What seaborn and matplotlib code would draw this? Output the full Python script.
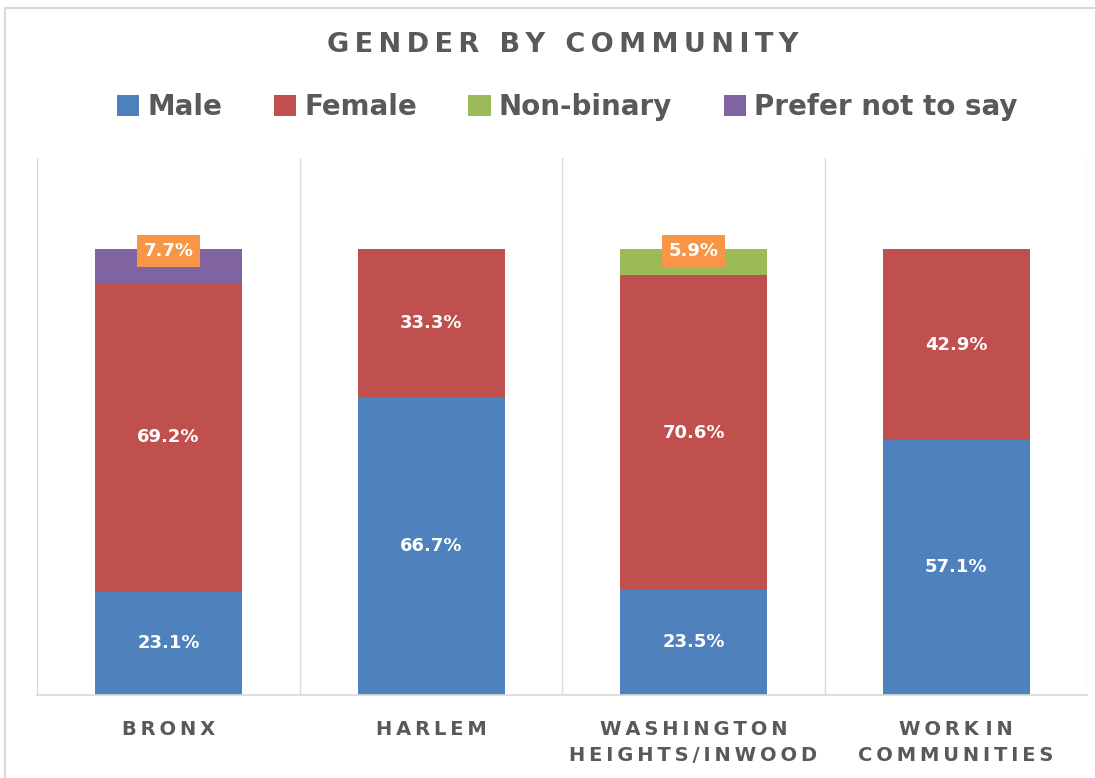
import matplotlib
matplotlib.use("Agg")
import matplotlib.pyplot as plt
import numpy as np
import pandas as pd
import seaborn as sns
from matplotlib.patches import Patch, Rectangle

# data (percent of respondents)
communities = ["BRONX", "HARLEM", "WASHINGTON\nHEIGHTS/INWOOD", "WORK IN\nCOMMUNITIES"]
series_names = ["Male", "Female", "Non-binary", "Prefer not to say"]
male = [23.1, 66.7, 23.5, 57.1]
female = [69.2, 33.3, 70.6, 42.9]
non_binary = [0.0, 0.0, 5.9, 0.0]
prefer_not = [7.7, 0.0, 0.0, 0.0]

colors = ["#4F81BD", "#C0504D", "#9BBB59", "#8064A2"]
text_gray = "#595959"


def spaced(s, gap="\u2009", word_gap=" "):
    """Widen letter spacing the way the original chart does."""
    out = []
    for line in s.split("\n"):
        words = [gap.join(w) for w in line.split(" ")]
        out.append(word_gap.join(words))
    return "\n".join(out)


sns.set_theme(style="white")
plt.rcParams["font.family"] = ["DejaVu Sans"]

layers = [np.array(male), np.array(female), np.array(non_binary), np.array(prefer_not)]
cum = np.cumsum(layers, axis=0) / 100.0

fig = plt.figure(figsize=(10.95, 7.78), dpi=100)
ax = fig.add_axes([0.034, 0.107, 0.959, 0.690])

# stacked bars drawn as overlapping cumulative bars, top layer first
for i in range(len(series_names) - 1, -1, -1):
    df = pd.DataFrame({"community": communities, "value": cum[i]})
    sns.barplot(data=df, x="community", y="value", color=colors[i],
                saturation=1, width=0.56, ax=ax, errorbar=None, linewidth=0)

# segment labels
for j in range(len(communities)):
    bottom = 0.0
    for i in range(len(series_names)):
        v = layers[i][j] / 100.0
        if v > 0:
            lbl = f"{layers[i][j]:.1f}%"
            if v > 0.1:
                ax.text(j, bottom + v / 2, lbl, ha="center", va="center",
                        color="white", fontsize=13, fontweight="bold")
            else:
                ax.text(j, 1.0 - 0.005, lbl, ha="center", va="center",
                        color="white", fontsize=13, fontweight="bold",
                        bbox=dict(boxstyle="square,pad=0.38", fc="#F79646", ec="none"))
        bottom += v

ax.set_ylim(0, 1.204)
ax.set_xlim(-0.5, len(communities) - 0.5)
ax.set_yticks([])
ax.set_xlabel("")
ax.set_ylabel("")
for x in np.arange(-0.5, len(communities), 1.0):
    ax.axvline(x, color="#D9D9D9", lw=1, zorder=0)
for s in ["top", "left", "right"]:
    ax.spines[s].set_visible(False)
ax.spines["bottom"].set_color("#D9D9D9")
ax.tick_params(axis="x", length=0, pad=18)
ax.set_xticks(range(len(communities)))
ax.set_xticklabels([spaced(c) for c in communities], fontsize=14, fontweight="bold",
                   color=text_gray, linespacing=1.45)

fig.text(0.514, 0.942, spaced("GENDER BY COMMUNITY", word_gap="\u2009 \u2009"),
         ha="center", va="center", fontsize=19.5, fontweight="bold", color=text_gray)

handles = [Patch(facecolor=c, edgecolor="none") for c in colors]
leg = fig.legend(handles, series_names, loc="center", bbox_to_anchor=(0.518, 0.862),
                 ncol=4, frameon=False, handlelength=0.8, handleheight=0.8,
                 handletextpad=0.3, columnspacing=1.85,
                 prop={"size": 20, "weight": "bold"})
for t in leg.get_texts():
    t.set_color(text_gray)

fig.patches.append(Rectangle((0.005, -0.01), 1.0, 1.0, transform=fig.transFigure,
                             fill=False, ec="#D9D9D9", lw=1.5))

fig.savefig("out.png", dpi=100)
